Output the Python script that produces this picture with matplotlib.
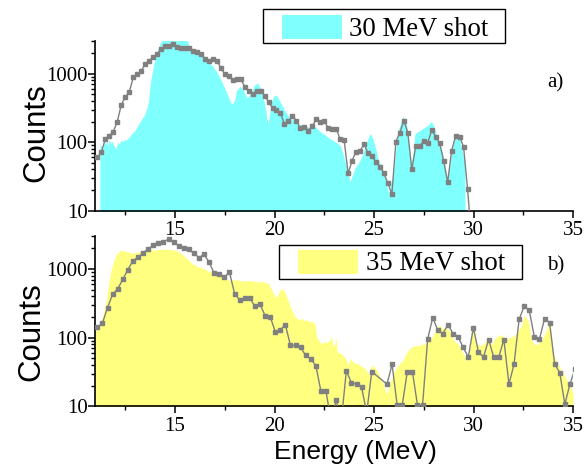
import matplotlib
matplotlib.use("Agg")
import matplotlib.pyplot as plt
import numpy as np
from matplotlib.ticker import FixedLocator, NullFormatter, LogLocator, FuncFormatter
from matplotlib.patches import Rectangle

plt.rcParams['font.family'] = ['Liberation Serif', 'DejaVu Serif']

# ---------------- data ----------------
# 30 MeV shot: measured spectrum (filled area)
cyan_E = [11.22, 11.23, 11.30, 11.38, 11.45, 11.52, 11.57, 11.63, 11.70, 11.77,
          11.83, 11.90, 11.97, 12.05, 12.12, 12.20, 12.30, 12.38, 12.45, 12.55,
          12.65, 12.75, 12.85, 13.00, 13.15, 13.30, 13.45, 13.60, 13.68, 13.73,
          13.80, 13.90, 14.00, 14.10, 14.20, 14.30, 14.40, 15.60, 15.70, 15.85,
          16.00, 16.20, 16.40, 16.55, 16.70, 16.90, 17.10, 17.35, 17.60, 17.80,
          17.90, 18.00, 18.10, 18.27, 18.44, 18.60, 18.77, 19.00, 19.15, 19.30,
          19.45, 19.55, 19.62, 19.68, 19.75, 19.85, 19.95, 20.10, 20.28, 20.50,
          20.75, 21.00, 21.28, 21.50, 21.78, 22.04, 22.29, 22.54, 22.79, 23.04,
          23.30, 23.46, 23.60, 23.71, 23.79, 23.88, 24.05, 24.21, 24.38, 24.55,
          24.72, 24.83, 24.97, 25.10, 25.22, 25.39, 25.55, 25.72, 25.80, 25.97,
          26.11, 26.22, 26.39, 26.45, 26.61, 26.73, 26.84, 26.94, 27.06, 27.23,
          27.48, 27.73, 27.85, 27.95, 28.07, 28.23, 28.40, 28.57, 28.69, 28.82,
          28.99, 29.12, 29.32, 29.49, 29.57, 29.58]
cyan_C = [1, 95, 88, 80, 105, 92, 110, 88, 112, 95,
          105, 92, 85, 80, 100, 95, 108, 100, 110, 107,
          115, 125, 135, 150, 180, 210, 245, 320, 420, 620,
          850, 1200, 1700, 2150, 2550, 2950, 3200, 3200, 2600, 2300,
          2150, 2050, 1900, 1650, 1450, 1300, 1050, 770, 520, 380,
          360, 420, 580, 650, 580, 440, 500, 690, 730, 620,
          420, 300, 220, 183, 260, 380, 470, 490, 390, 295,
          230, 200, 178, 180, 160, 170, 143, 128, 112, 102,
          90, 65, 45, 35, 26, 31, 42, 49, 61, 86,
          118, 135, 107, 77, 55, 44, 31, 18, 22, 35,
          86, 150, 211, 240, 200, 107, 49, 61, 135, 143,
          160, 178, 200, 190, 150, 107, 77, 44, 26, 49,
          96, 135, 107, 61, 55, 1]

# 30 MeV shot: simulation (grey line with markers), 0.2 MeV bins from 11.1 MeV
sim30_start, sim30_step = 11.1, 0.2
sim30_C = [60, 71, 112, 125, 143, 200, 350, 458, 537, 880,
           985, 1100, 1380, 1550, 1740, 1930, 2260, 2520, 2570, 2750,
           2460, 2400, 2350, 2350, 2150, 2100, 1970, 1650, 1550, 1620,
           1550, 1230, 985, 920, 805, 840, 840, 645, 550, 503,
           562, 562, 478, 390, 313, 300, 268, 183, 205, 240,
           207, 160, 169, 148, 173, 216, 200, 207, 160, 155,
           158, 110, 107, 35, 54, 73, 75, 94, 69, 63,
           51, 44, 35, 25, 17.5, 102, 138, 207, 138, 40,
           88, 88, 104, 98, 150, 121, 96, 54, 26, 75,
           123, 120, 86, 21, 4]

# 35 MeV shot: measured spectrum (filled area)
yel_E = [11.00, 11.10, 11.23, 11.40, 11.53, 11.65, 11.77, 11.90, 12.04, 12.24,
         12.40, 12.65, 12.91, 13.16, 13.41, 13.66, 13.91, 14.25, 14.58, 14.92,
         15.17, 15.42, 15.67, 15.92, 16.17, 16.42, 16.67, 16.92, 17.18, 17.43,
         17.77, 18.10, 18.43, 18.77, 19.10, 19.44, 19.69, 19.86, 20.03, 20.11,
         20.20, 20.28, 20.41, 20.50, 20.58, 20.70, 20.78, 20.88, 20.95, 21.08,
         21.20, 21.37, 21.50, 21.62, 21.75, 21.87, 21.95, 22.04, 22.12, 22.20,
         22.30, 22.37, 22.50, 22.62, 22.75, 22.87, 22.92, 23.00, 23.10, 23.15,
         23.29, 23.46, 23.60, 23.70, 23.80, 23.95, 24.10, 24.30, 24.45, 24.55,
         24.72, 24.88, 25.00, 25.15, 25.30, 25.47, 25.60, 25.68, 25.80, 25.97,
         26.14, 26.30, 26.47, 26.60, 26.73, 26.85, 26.98, 27.15, 27.31, 27.45,
         27.56, 27.70, 27.82, 27.98, 28.10, 28.23, 28.32, 28.45, 28.57, 28.74,
         28.85, 28.99, 29.10, 29.24, 29.35, 29.49, 29.60, 29.70, 29.80, 29.91,
         30.03, 30.10, 30.16, 30.30, 30.41, 30.55, 30.66, 30.80, 30.91, 31.05,
         31.16, 31.30, 31.42, 31.55, 31.67, 31.80, 31.92, 32.05, 32.17, 32.30,
         32.42, 32.54, 32.62, 32.76, 32.85, 32.92, 33.05, 33.18, 33.30, 33.43,
         33.55, 33.68, 33.78, 33.85, 33.93, 34.00, 34.10, 34.27, 34.43, 34.60,
         34.77, 34.93, 35.00]
yel_C = [128, 140, 154, 227, 336, 585, 915, 1280, 1640, 1880,
         1850, 1760, 1700, 1780, 1830, 1880, 1900, 1930, 1950, 1900,
         1800, 1580, 1350, 1170, 1080, 1020, 940, 870, 820, 735,
         690, 700, 670, 680, 650, 655, 615, 500, 400, 390,
         440, 500, 515, 470, 420, 340, 290, 250, 225, 195,
         185, 190, 178, 182, 170, 175, 165, 155, 100, 95,
         85, 82, 88, 84, 90, 105, 80, 75, 98, 62,
         60, 55, 48, 40, 50, 44, 42, 40, 37, 36,
         29, 40, 38, 33, 27, 21, 16, 15.5, 22, 30,
         37, 42, 48, 58, 65, 72, 75, 76, 78, 80,
         83, 86, 93, 110, 125, 148, 150, 135, 140, 132,
         118, 95, 85, 80, 70, 58, 50, 45, 60, 130,
         145, 100, 78, 80, 76, 85, 92, 84, 80, 95,
         103, 108, 110, 100, 96, 100, 103, 108, 115, 135,
         150, 210, 200, 175, 120, 92, 82, 78, 85, 92,
         110, 130, 175, 165, 100, 60, 50, 40, 33, 27,
         22, 18.5, 15]

# 35 MeV shot: simulation (grey line), bins of ~0.255 MeV from 11.1 MeV (None = empty bin)
sim35_start, sim35_stop = 11.1, 35.1
sim35_C = [141, 163, 275, 430, 514, 709, 980, 1320, 1480, 1730,
           1950, 2230, 2370, 2500, 2730, 2500, 2190, 2050, 1940, 1690,
           1470, 1640, 1250, 867, 838, 767, 897, 439, 355, 376,
           376, 287, 307, 210, 203, 123, 130, 154, 77, 77,
           72, 55, 49, 39, 16.5, 16.5, 6, 12.4, 6, 33,
           22, 21, 19, 8, 32, None, None, 21, 41, 10.4,
           10.4, 32, 32, 10.4, 10.4, 95, 196, 128, 115, 155,
           115, 103, 72, 52, 140, 62, 52, 94, 52, 52,
           94, 21, 41, 185, 286, 250, 103, 95, 188, 166,
           41, 31, 10.7, 21, 35]

x_major = [15, 20, 25, 30, 35]
x_minor = [12.5, 17.5, 22.5, 27.5, 32.5]
y_major = [10, 100, 1000]
legend_labels = ["30 MeV shot", "35 MeV shot"]
panel_labels = ["a)", "b)"]

# ---------------- figure ----------------
W, H = 588, 466
fig = plt.figure(figsize=(W / 100, H / 100), dpi=100)


def fx(px):
    return px / W


def fy(py):
    return 1 - py / H


x0, x1 = 95.4, 573.0
ax_top = fig.add_axes([fx(x0), fy(210.7), fx(x1) - fx(x0), fy(41.0) - fy(210.7)])
ax_bot = fig.add_axes([fx(x0), fy(406.3), fx(x1) - fx(x0), fy(236.3) - fy(406.3)])
ax_top.set_zorder(2)

grey = '#808080'

for ax in (ax_top, ax_bot):
    ax.set_facecolor('none')
    ax.set_yscale('log')
    ax.set_xlim(11, 35)
    ax.set_ylim(10, 3000)
    for s in ('top', 'right'):
        ax.spines[s].set_visible(False)
    for s in ('left', 'bottom'):
        ax.spines[s].set_linewidth(1.2)
    ax.xaxis.set_major_locator(FixedLocator(x_major))
    ax.xaxis.set_minor_locator(FixedLocator(x_minor))
    ax.yaxis.set_major_locator(FixedLocator(y_major))
    ax.yaxis.set_major_formatter(FuncFormatter(lambda v, p: f"{int(round(v))}"))
    ax.yaxis.set_minor_locator(LogLocator(base=10, subs=np.arange(2, 10)))
    ax.yaxis.set_minor_formatter(NullFormatter())
    ax.tick_params(axis='both', which='major', direction='out', length=5,
                   width=1.1, labelsize=15)
    ax.tick_params(axis='both', which='minor', direction='out', length=3.2,
                   width=1.0)
    ax.tick_params(axis='x', which='major', pad=2.5)
    ax.tick_params(axis='y', which='major', pad=0.5)

# top panel
ax_top.fill_between(cyan_E, 1, cyan_C, color='#80ffff', lw=0, zorder=1)
e30 = np.round(sim30_start + sim30_step * np.arange(len(sim30_C)), 3)
ax_top.plot(e30, sim30_C, '-s', color=grey, lw=1.0, ms=3.2, mec=grey, zorder=3)

# bottom panel
ax_bot.fill_between(yel_E, 1, yel_C, color='#ffff80', lw=0, zorder=1)
e35 = np.linspace(sim35_start, sim35_stop, len(sim35_C))
c35 = np.array([np.nan if v is None else v for v in sim35_C], dtype=float)
ok = np.isfinite(c35)
ax_bot.plot(e35[ok], c35[ok], '-s', color=grey, lw=1.0, ms=3.2, mec=grey, zorder=3)

# axis labels
fig.text(fx(36.8), fy(132.5), 'Counts', rotation=90, ha='center', va='center',
         fontsize=22.5, family=['Liberation Sans', 'DejaVu Sans'])
fig.text(fx(31.6), fy(331.7), 'Counts', rotation=90, ha='center', va='center',
         fontsize=22.5, family=['Liberation Sans', 'DejaVu Sans'])
fig.text(fx(355.5), fy(459), 'Energy (MeV)', ha='center', va='baseline',
         fontsize=19, family=['Liberation Sans', 'DejaVu Sans'])

# legends (drawn as boxes)
def legend_box(bx0, by0, bx1, by1, px0, py0, px1, py1, color, tx, ty, label):
    fig.add_artist(Rectangle((fx(bx0), fy(by1)), fx(bx1) - fx(bx0), fy(by0) - fy(by1),
                             transform=fig.transFigure, facecolor='white',
                             edgecolor='black', lw=1.0, zorder=5))
    fig.add_artist(Rectangle((fx(px0), fy(py1)), fx(px1) - fx(px0), fy(py0) - fy(py1),
                             transform=fig.transFigure, facecolor=color,
                             edgecolor='none', lw=0, zorder=6))
    fig.text(fx(tx), fy(ty), label, fontsize=19.3, va='baseline', ha='left', zorder=7)


legend_box(263, 9, 505, 43, 282, 15, 342, 39, '#80ffff', 349, 36, legend_labels[0])
legend_box(279, 245, 522, 279, 298, 250, 358, 274, '#ffff80', 366, 270, legend_labels[1])

fig.text(fx(547), fy(87), panel_labels[0], fontsize=15, va='baseline', ha='left')
fig.text(fx(547), fy(270), panel_labels[1], fontsize=15, va='baseline', ha='left')

fig.savefig('out.png', dpi=100)
